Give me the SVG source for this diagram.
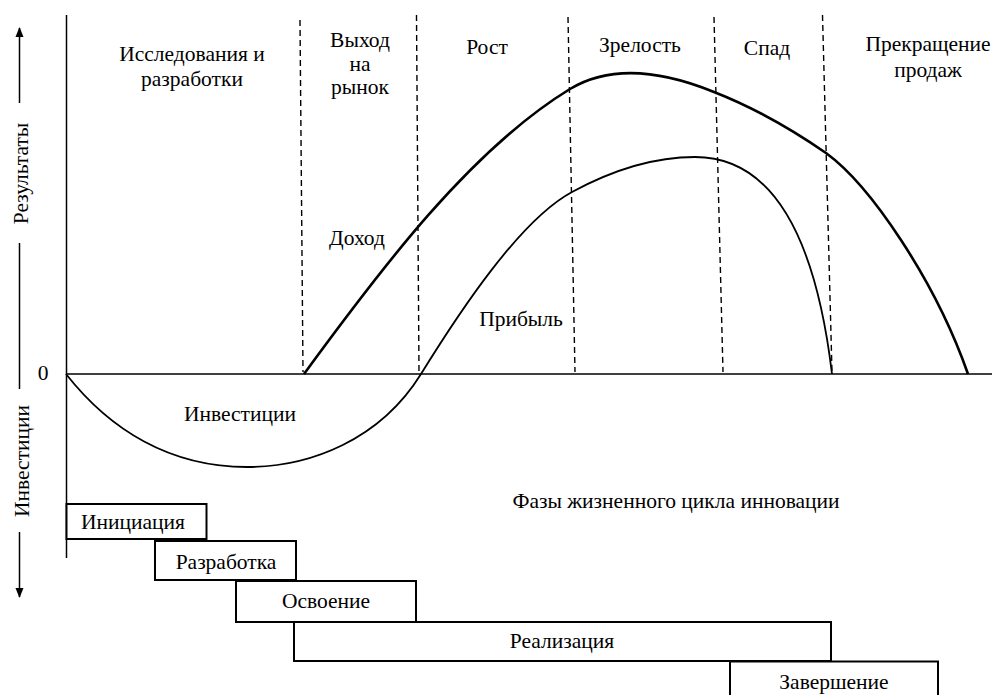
<svg xmlns="http://www.w3.org/2000/svg" width="992" height="695" viewBox="0 0 992 695">
<defs>
<style>
text{font-family:"Liberation Serif","Times New Roman","DejaVu Serif",serif;font-size:21.5px;fill:#000;}
.m{text-anchor:middle;}
.ax{stroke:#000;stroke-width:1.5;fill:none;}
.dash{stroke:#000;stroke-width:1.4;stroke-dasharray:6 4;fill:none;}
.rev{stroke:#000;stroke-width:2.6;fill:none;}
.prof{stroke:#000;stroke-width:1.8;fill:none;}
.box{stroke:#000;stroke-width:2;fill:#fff;}
</style>
<marker id="ah" markerWidth="10" markerHeight="10" refX="9" refY="5" orient="auto" markerUnits="userSpaceOnUse" viewBox="0 0 10 10">
<path d="M0,1 L10,5 L0,9 Z" fill="#000"/>
</marker>
</defs>
<rect width="992" height="695" fill="#fff"/>

<g id="left-scale">
<line class="ax" x1="19.5" y1="103" x2="19.5" y2="28" marker-end="url(#ah)"/>
<text class="m" transform="translate(28,173.5) rotate(-90)">Результаты</text>
<line class="ax" x1="19.5" y1="243" x2="19.5" y2="389"/>
<text class="m" transform="translate(29,461) rotate(-90)">Инвестиции</text>
<line class="ax" x1="19.5" y1="532" x2="19.5" y2="597" marker-end="url(#ah)"/>
</g>

<g id="axes">
<line class="ax" x1="66.5" y1="15" x2="66.5" y2="558"/>
<line class="ax" x1="66" y1="374" x2="992" y2="374"/>
<text class="m" x="43" y="380">0</text>
</g>

<g id="connectors">
<line class="dash" x1="300" y1="20" x2="303" y2="372"/>
<line class="dash" x1="416.5" y1="15" x2="419" y2="372"/>
<line class="dash" x1="568" y1="17" x2="575" y2="372"/>
<line class="dash" x1="714" y1="17" x2="723" y2="372"/>
<line class="dash" x1="822.5" y1="15" x2="832" y2="372"/>
<path id="revenue" class="rev" d="M304,374 C380,270 470,150 570,89 C610,65 660,70 714,92 C760,110 800,135 826,153 C870,185 935,280 968,374"/>
<path id="investment-profit" class="prof" d="M66,374 C110,430 170,467 247,467 C310,467 380,440 421,374 C460,311 520,220 572,192 C620,166 660,157 695,157 C770,157 815,232 832,374"/>
</g>

<g id="phase-labels">
<g id="ph-rd"><text class="m" x="192" y="61">Исследования и</text><text class="m" x="192" y="86">разработки</text></g>
<g id="ph-entry"><text class="m" x="360" y="47">Выход</text><text class="m" x="360" y="71">на</text><text class="m" x="360" y="94">рынок</text></g>
<g id="ph-growth"><text class="m" x="487" y="54">Рост</text></g>
<g id="ph-maturity"><text class="m" x="640" y="52">Зрелость</text></g>
<g id="ph-decline"><text class="m" x="767" y="55">Спад</text></g>
<g id="ph-stop"><text class="m" x="928" y="51">Прекращение</text><text class="m" x="928" y="77">продаж</text></g>
</g>

<g id="curve-labels">
<text class="m" x="357" y="245">Доход</text>
<text class="m" x="521" y="326">Прибыль</text>
<text class="m" x="240" y="421">Инвестиции</text>
<text class="m" x="676" y="508">Фазы жизненного цикла инновации</text>
</g>

<g id="box-initiation"><rect class="box" x="66.5" y="504" width="140" height="35"/><text class="m" x="133" y="529">Инициация</text></g>
<g id="box-development"><rect class="box" x="155" y="541" width="141" height="39"/><text class="m" x="226" y="569">Разработка</text></g>
<g id="box-mastering"><rect class="box" x="236" y="581" width="180" height="41"/><text class="m" x="326" y="608">Освоение</text></g>
<g id="box-realization"><rect class="box" x="294" y="622" width="537" height="39"/><text class="m" x="562" y="648">Реализация</text></g>
<g id="box-completion"><rect class="box" x="730" y="661.5" width="208" height="50"/><text class="m" x="834" y="689">Завершение</text></g>
</svg>
